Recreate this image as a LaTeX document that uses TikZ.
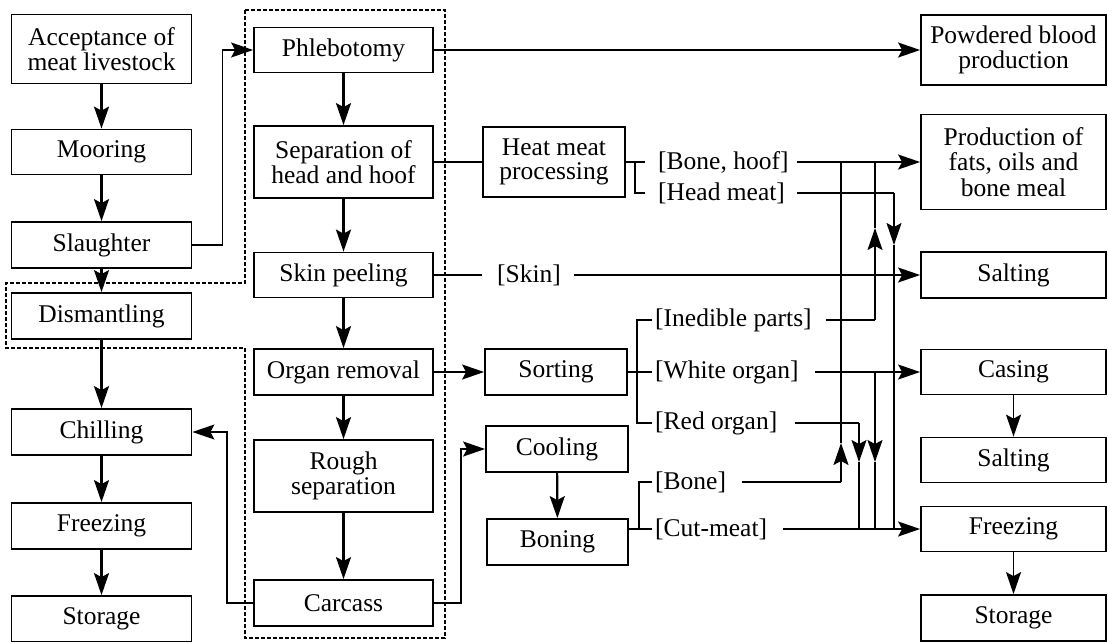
\documentclass[tikz,border=0pt]{standalone}
\usepackage{fontspec}
\setmainfont{Liberation Serif}
\newfontfamily\tnr{Liberation Serif}
\usetikzlibrary{arrows.meta}
\begin{document}
\begin{tikzpicture}[x=1pt,y=-1pt,
  box/.style={draw, line width=1.8pt, align=center, inner sep=0pt, font=\tnr\fontsize{25.5}{24.5}\selectfont},
  lbl/.style={inner sep=0pt, anchor=west, font=\tnr\fontsize{25.5}{24.5}\selectfont},
  conn/.style={line width=1.5pt},
  arr/.style={conn, -{Stealth[length=22pt,width=15pt,inset=4pt]}},
  tarr/.style={line width=2.2pt, -{Stealth[length=22pt,width=15pt,inset=4pt]}},
  dashbox/.style={line width=1.1pt, dash pattern=on 4pt off 2pt}]
\useasboundingbox (0,0) rectangle (1108,641);
% dashed region
\draw[dashbox] (245,10) -- (445,10) -- (445,638) -- (245,638) -- (245,348) -- (6,348) -- (6,283) -- (245,283) -- cycle;
% left column
\node[box, minimum width=180pt, minimum height=69pt] (acc) at (101.5,49) {Acceptance of\\meat livestock};
\node[box, minimum width=180pt, minimum height=45pt] (moor) at (101.5,152) {Mooring};
\node[box, minimum width=180pt, minimum height=46pt] (slau) at (101.5,245) {Slaughter};
\node[box, minimum width=180pt, minimum height=46pt] (dism) at (101.5,316) {Dismantling};
\node[box, minimum width=180pt, minimum height=46pt] (chil) at (101.5,432) {Chilling};
\node[box, minimum width=180pt, minimum height=46pt] (frz) at (101.5,526) {Freezing};
\node[box, minimum width=180pt, minimum height=46pt] (stor) at (101.5,619) {Storage};
% middle column
\node[box, minimum width=179pt, minimum height=45pt] (phle) at (343.5,50) {Phlebotomy};
\node[box, minimum width=179pt, minimum height=72pt] (sep) at (343.5,162) {Separation of\\head and hoof};
\node[box, minimum width=179pt, minimum height=45pt] (skin) at (343.5,275) {Skin peeling};
\node[box, minimum width=179pt, minimum height=46pt] (organ) at (343.5,372) {Organ removal};
\node[box, minimum width=179pt, minimum height=72pt] (rough) at (343.5,476) {Rough\\separation};
\node[box, minimum width=179pt, minimum height=46pt] (carc) at (343.5,603) {Carcass};
% middle-right column
\node[box, minimum width=142pt, minimum height=70pt] (heat) at (554,162) {Heat meat\\processing};
\node[box, minimum width=142pt, minimum height=46pt] (sort) at (556,372) {Sorting};
\node[box, minimum width=142pt, minimum height=46pt] (cool) at (557,449) {Cooling};
\node[box, minimum width=141pt, minimum height=46pt] (bone) at (557.5,542) {Boning};
% right column
\node[box, minimum width=185pt, minimum height=70pt] (powd) at (1013.5,50) {Powdered blood\\production};
\node[box, minimum width=185pt, minimum height=95pt, font=\tnr\fontsize{25.5}{25.5}\selectfont] (fats) at (1013.5,162) {Production of\\fats, oils and\\bone meal};
\node[box, minimum width=185pt, minimum height=46pt] (salt1) at (1013.5,275) {Salting};
\node[box, minimum width=185pt, minimum height=45pt] (cas) at (1013.5,372) {Casing};
\node[box, minimum width=185pt, minimum height=45pt] (salt2) at (1013.5,460) {Salting};
\node[box, minimum width=185pt, minimum height=45pt] (frz2) at (1013.5,529) {Freezing};
\node[box, minimum width=185pt, minimum height=46pt] (stor2) at (1013.5,618) {Storage};
% labels
\node[lbl] (bh) at (658,162) {[Bone, hoof]};
\node[lbl] (hm) at (658,193) {[Head meat]};
\node[lbl, anchor=center] (skl) at (529,275) {[Skin]};
\node[lbl] (ine) at (655,320) {[Inedible parts]};
\node[lbl] (wo) at (655,372) {[White organ]};
\node[lbl] (ro) at (655,423) {[Red organ]};
\node[lbl] (bn) at (655,482) {[Bone]};
\node[lbl] (cm) at (655,529) {[Cut-meat]};
% left column arrows
\draw[tarr] (acc) -- (moor);
\draw[tarr] (moor) -- (slau);
\draw[tarr] (slau) -- (dism);
\draw[tarr] (dism) -- (chil);
\draw[tarr] (chil) -- (frz);
\draw[tarr] (frz) -- (stor);
% middle column arrows
\draw[tarr] (phle) -- (sep);
\draw[tarr] (sep) -- (skin);
\draw[tarr] (skin) -- (organ);
\draw[tarr] (organ) -- (rough);
\draw[tarr] (rough) -- (carc);
% cross links
\draw[arr] (slau.east) -- ++(30,0) |- (phle.west);
\draw[arr] (carc.west) -- ++(-26,0) |- (chil.east);
\draw[arr] (carc.east) -- ++(27,0) |- (cool.west);
\draw[arr] (phle) -- (powd);
\draw[conn] (sep) -- (heat);
\draw[arr] (organ) -- (sort);
\draw[tarr] (cool) -- (bone);
\draw[arr] (cas) -- (salt2);
\draw[arr] (frz2) -- (stor2);
% heat bracket
\draw[conn] (heat.east) -- ([xshift=-13pt]bh.west);
\coordinate (hb) at (635,162);
\draw[conn] (hb) -- (635,193) -- ([xshift=-13pt]hm.west);
% skin
\draw[conn] (skin) -- ([xshift=-15pt]skl.west);
\draw[arr] ([xshift=13pt]skl.east) -- (salt1);
% sorting bracket
\draw[conn] (sort.east) -- ([xshift=-3pt]wo.west);
\coordinate (sbt) at (637,320);
\coordinate (sbb) at (637,423);
\draw[conn] ([xshift=-3pt]ine.west) -- (sbt) -- (sbb) -- ([xshift=-3pt]ro.west);
% boning bracket
\coordinate (bb) at (639,529);
\coordinate (bt) at (639,482);
\draw[conn] (bone.east |- bb) -- ([xshift=-3pt]cm.west);
\draw[conn] (bb) -- (bt) -- ([xshift=-3pt]bn.west);
% right wiring
\coordinate (v1t) at (841,162);
\coordinate (v1a) at (841,443);
\coordinate (v1b) at (841,482);
\coordinate (v2t) at (875,162);
\coordinate (v2a) at (875,228);
\coordinate (v2b) at (875,320);
\coordinate (v3t) at (894,193);
\coordinate (v3a) at (894,245);
\coordinate (v3b) at (894,529);
\coordinate (v4t) at (859,423);
\coordinate (v4a) at (859,462);
\coordinate (v4b) at (859,529);
\coordinate (v5t) at (875,372);
\coordinate (v5a) at (875,462);
\coordinate (v5b) at (875,529);
\draw[arr] ([xshift=8pt]bh.east) -- (fats.west);
\draw[conn] ([xshift=12pt]hm.east) -- (v3t);
\draw[arr] (v3t) -- (v3a);
\draw[conn] (v3a) -- (v3b);
\draw[conn] ([xshift=14pt]ine.east) -- (v2b);
\draw[arr] (v2b) -- (v2a);
\draw[conn] (v2a) -- (v2t);
\draw[arr] ([xshift=16pt]wo.east) -- (cas.west);
\draw[arr] (v5t) -- (v5a);
\draw[conn] (v5a) -- (v5b);
\draw[conn] ([xshift=18pt]ro.east) -- (v4t);
\draw[arr] (v4t) -- (v4a);
\draw[conn] (v4a) -- (v4b);
\draw[conn] ([xshift=16pt]bn.east) -- (v1b);
\draw[arr] (v1b) -- (v1a);
\draw[conn] (v1a) -- (v1t);
\draw[arr] ([xshift=16pt]cm.east) -- (frz2.west);
\end{tikzpicture}
\end{document}
